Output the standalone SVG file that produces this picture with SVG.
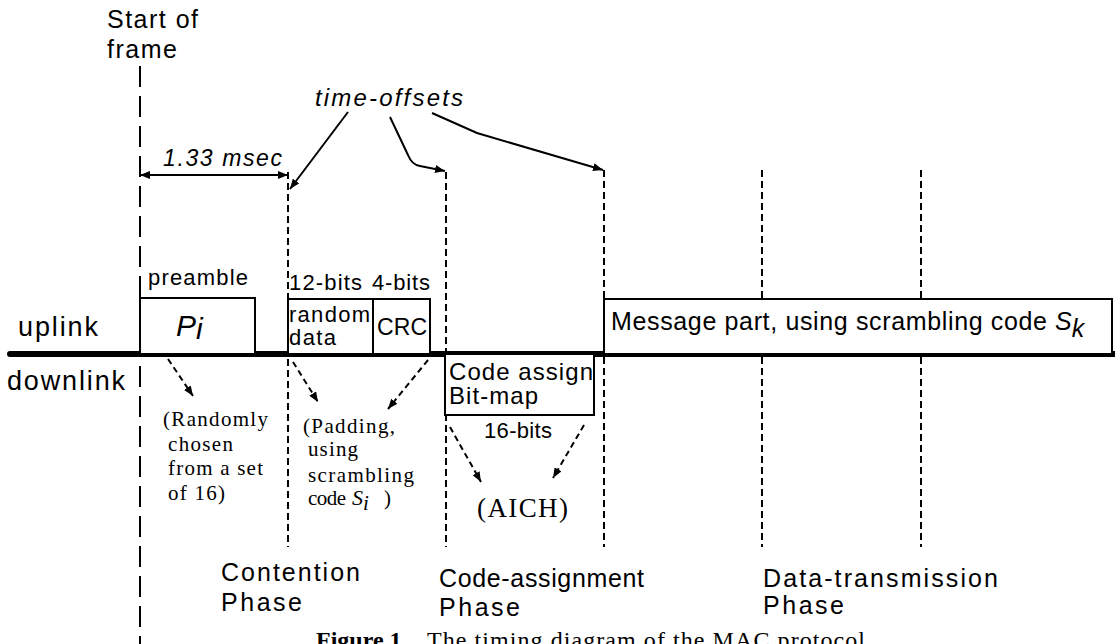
<svg xmlns="http://www.w3.org/2000/svg" width="1115" height="644" viewBox="0 0 1115 644">
<style>
text{font-family:"Liberation Sans",Arial,sans-serif;fill:#000}
.serif{font-family:"Liberation Serif","Times New Roman",serif}
.it{font-style:italic}
.box{fill:#fff;stroke:#000;stroke-width:2}
.vdash{stroke:#000;stroke-width:2;stroke-dasharray:7 4;fill:none}
.ldash{stroke:#000;stroke-width:2;stroke-dasharray:21 9;fill:none}
.arr{stroke:#000;stroke-width:2;fill:none;marker-end:url(#ah)}
.darr{stroke:#000;stroke-width:2;stroke-dasharray:6 4;fill:none;marker-end:url(#ah)}
</style>
<defs>
<marker id="ah" viewBox="0 0 10 8" refX="10" refY="4" markerWidth="10" markerHeight="8" markerUnits="userSpaceOnUse" orient="auto-start-reverse"><path d="M0,0 L10,4 L0,8 z" fill="#000"/></marker>
</defs>
<rect width="1115" height="644" fill="#fff"/>

<g id="guides">
<line class="ldash" x1="140" y1="66" x2="140" y2="644"/>
<line class="vdash" x1="288" y1="172" x2="288" y2="547"/>
<line class="vdash" x1="446" y1="172" x2="446" y2="547"/>
<line class="vdash" x1="604" y1="170" x2="604" y2="547"/>
<line class="vdash" x1="762" y1="170" x2="762" y2="547"/>
<line class="vdash" x1="921" y1="170" x2="921" y2="547"/>
</g>

<g id="start-label">
<text x="107" y="28" font-size="25" textLength="91" lengthAdjust="spacing">Start of</text>
<text x="107" y="58" font-size="25" textLength="70" lengthAdjust="spacing">frame</text>
</g>
<g id="time-offsets-label">
<text class="it" x="315" y="106" font-size="24" textLength="148" lengthAdjust="spacing">time-offsets</text>
</g>
<g id="msec-label">
<text class="it" x="163" y="166" font-size="23" textLength="119" lengthAdjust="spacing">1.33 msec</text>
</g>

<g id="link-labels">
<text x="18" y="336" font-size="27" textLength="80" lengthAdjust="spacing">uplink</text>
<text x="7" y="390" font-size="27" textLength="118" lengthAdjust="spacing">downlink</text>
</g>

<g id="axis">
<line x1="10" y1="354" x2="1115" y2="354" stroke="#000" stroke-width="6" stroke-linecap="round"/>
</g>

<g id="preamble">
<text x="148" y="285" font-size="22" textLength="100" lengthAdjust="spacing">preamble</text>
<rect class="box" x="140" y="298" width="115" height="56"/>
<text class="it" x="176" y="336" font-size="30">P<tspan dy="3">i</tspan></text>
</g>

<g id="random-data">
<text x="289" y="290" font-size="22" textLength="73" lengthAdjust="spacing">12-bits</text>
<rect class="box" x="288" y="299" width="85" height="55"/>
<text x="289" y="322" font-size="22" textLength="81" lengthAdjust="spacing">random</text>
<text x="289" y="345" font-size="22" textLength="47" lengthAdjust="spacing">data</text>
</g>

<g id="crc">
<text x="372" y="290" font-size="22" textLength="58" lengthAdjust="spacing">4-bits</text>
<rect class="box" x="373" y="299" width="57" height="55"/>
<text x="377" y="335" font-size="23" textLength="50" lengthAdjust="spacing">CRC</text>
</g>

<g id="message-part">
<rect class="box" x="604" y="299" width="508" height="55"/>
<text x="611" y="330" font-size="25" textLength="436" lengthAdjust="spacing">Message part, using scrambling code</text>
<text class="it" x="1055" y="330" font-size="25">S<tspan dy="7">k</tspan></text>
</g>

<g id="code-assign">
<rect class="box" x="445" y="354" width="149" height="61"/>
<text x="449" y="380" font-size="24" textLength="144" lengthAdjust="spacing">Code assign</text>
<text x="449" y="404" font-size="24" textLength="89" lengthAdjust="spacing">Bit-map</text>
<text x="484" y="438" font-size="22" textLength="68" lengthAdjust="spacing">16-bits</text>
</g>

<g id="note-preamble">
<text class="serif" x="163" y="426" font-size="21" textLength="105" lengthAdjust="spacing">(Randomly</text>
<text class="serif" x="168" y="451" font-size="21" textLength="65" lengthAdjust="spacing">chosen</text>
<text class="serif" x="168" y="475" font-size="21" textLength="95" lengthAdjust="spacing">from a set</text>
<text class="serif" x="168" y="500" font-size="21" textLength="57" lengthAdjust="spacing">of 16)</text>
</g>

<g id="note-padding">
<text class="serif" x="303" y="433" font-size="21" textLength="92" lengthAdjust="spacing">(Padding,</text>
<text class="serif" x="308" y="456" font-size="21" textLength="50" lengthAdjust="spacing">using</text>
<text class="serif" x="308" y="482" font-size="21" textLength="106" lengthAdjust="spacing">scrambling</text>
<text class="serif" x="308" y="505" font-size="21" textLength="38" lengthAdjust="spacing">code</text>
<text class="serif it" x="352" y="505" font-size="22">S<tspan dy="5" font-size="21">i</tspan></text>
<text class="serif" x="384" y="505" font-size="21">)</text>
</g>

<g id="aich">
<text class="serif" x="477" y="517" font-size="27" textLength="91" lengthAdjust="spacing">(AICH)</text>
</g>

<g id="phases">
<text x="221" y="581" font-size="25" textLength="139" lengthAdjust="spacing">Contention</text>
<text x="221" y="611" font-size="25" textLength="81" lengthAdjust="spacing">Phase</text>
<text x="439" y="587" font-size="25" textLength="205" lengthAdjust="spacing">Code-assignment</text>
<text x="439" y="616" font-size="25" textLength="81" lengthAdjust="spacing">Phase</text>
<text x="763" y="587" font-size="25" textLength="235" lengthAdjust="spacing">Data-transmission</text>
<text x="763" y="614" font-size="25" textLength="81" lengthAdjust="spacing">Phase</text>
</g>

<g id="caption">
<text class="serif" x="316" y="648" font-size="24" font-weight="bold">Figure 1.</text>
<text class="serif" x="427" y="648" font-size="24" textLength="438" lengthAdjust="spacing">The timing diagram of the MAC protocol</text>
</g>

<g id="connectors">
<line x1="140" y1="175" x2="288" y2="175" stroke="#000" stroke-width="2" marker-start="url(#ah)" marker-end="url(#ah)"/>
<path class="arr" d="M348,112 L290,189"/>
<path class="arr" d="M390,117 L408,155 Q412,165 420,166 L445,171"/>
<path class="arr" d="M432,113 L477,133 L603,170"/>
<path class="darr" d="M168,359 L193,396"/>
<path class="darr" d="M293,362 L318,402"/>
<path class="darr" d="M428,360 L388,409"/>
<path class="darr" d="M450,427 L481,482"/>
<path class="darr" d="M584,425 L553,478"/>
</g>
</svg>
